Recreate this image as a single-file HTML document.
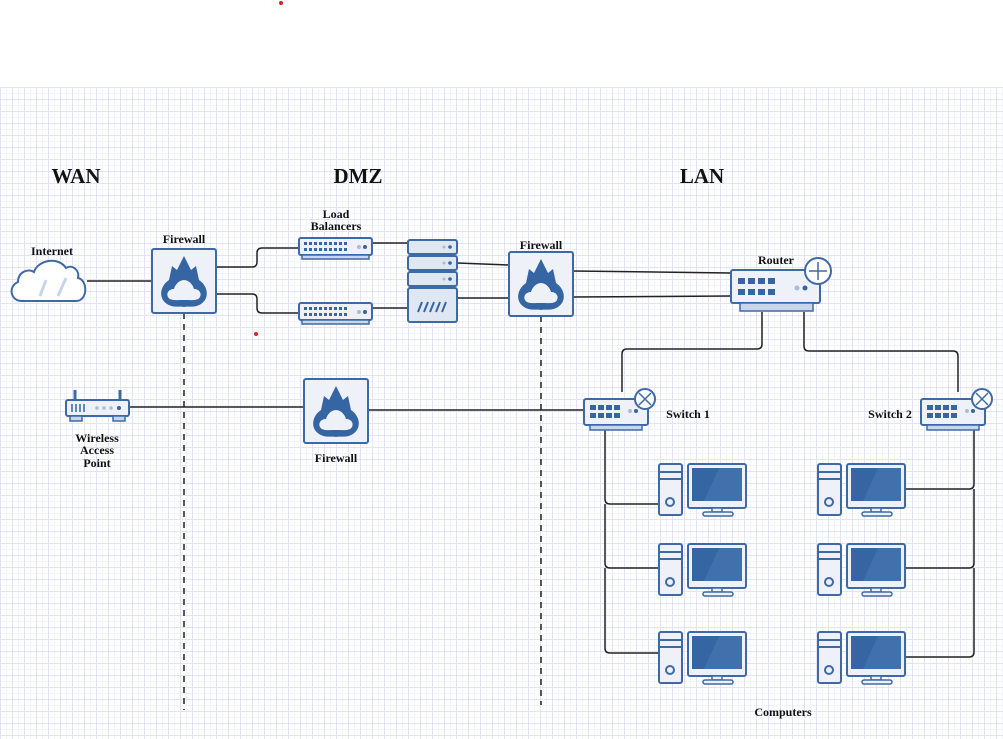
<!DOCTYPE html>
<html><head><meta charset="utf-8"><style>
html,body{margin:0;padding:0;background:#fff;}
#c{position:relative;width:1003px;height:739px;overflow:hidden;}
#g{position:absolute;left:0;top:87px;width:1003px;height:652px;
background-image:
linear-gradient(#e3e3f7 1px,transparent 1px),
linear-gradient(90deg,#e3e3f7 1px,transparent 1px),
linear-gradient(#f3f3fb 1px,transparent 1px),
linear-gradient(90deg,#f3f3fb 1px,transparent 1px);
background-size:12px 12px,12px 12px,6px 6px,6px 6px;}
svg{position:absolute;left:0;top:0;}
text{font-family:"Liberation Serif",serif;font-weight:bold;fill:#111;}
</style></head><body><div id="c"><div id="g"></div>
<svg width="1003" height="739" viewBox="0 0 1003 739">
<defs>
<g id="fw">
<rect x="0" y="0" width="64" height="64" rx="2" fill="#eef2f8" stroke="#3d6aa6" stroke-width="2"/>
<path d="M32 7 L39 21 L44 17 L47 31 C56 37 58 49 49 55 C43 59 37 57 32 58 C27 57 21 59 15 55 C6 49 8 37 17 31 L20 17 L25 21 Z" fill="#3565a3"/>
<path d="M32 31 C37 31 41 36 42 40 C47 40 50 44 48 48 C46 52 40 51 32 51 C24 51 18 52 16 48 C14 44 17 40 22 40 C23 36 27 31 32 31 Z" fill="#eef2f8"/>
</g>
<g id="lb">
<rect x="0" y="0" width="73" height="17" rx="2" fill="#eef2f8" stroke="#3d6aa6" stroke-width="2"/>
<rect x="3" y="17" width="67" height="4" fill="#c9d6ea" stroke="#3d6aa6" stroke-width="1.5"/>
<g fill="#3565a3">
<rect x="5" y="4" width="3" height="3"/><rect x="10" y="4" width="3" height="3"/><rect x="15" y="4" width="3" height="3"/><rect x="20" y="4" width="3" height="3"/><rect x="25" y="4" width="3" height="3"/><rect x="30" y="4" width="3" height="3"/><rect x="35" y="4" width="3" height="3"/><rect x="40" y="4" width="3" height="3"/><rect x="45" y="4" width="3" height="3"/>
<rect x="5" y="10" width="3" height="3"/><rect x="10" y="10" width="3" height="3"/><rect x="15" y="10" width="3" height="3"/><rect x="20" y="10" width="3" height="3"/><rect x="25" y="10" width="3" height="3"/><rect x="30" y="10" width="3" height="3"/><rect x="35" y="10" width="3" height="3"/><rect x="40" y="10" width="3" height="3"/><rect x="45" y="10" width="3" height="3"/>
<circle cx="60" cy="9" r="2" fill="#aabbd6"/><circle cx="66" cy="9" r="2"/></g>
</g>
<g id="sw">
<rect x="0" y="0" width="64" height="26" rx="2" fill="#eef2f8" stroke="#3d6aa6" stroke-width="2"/>
<rect x="6" y="26" width="52" height="5" fill="#c9d6ea" stroke="#3d6aa6" stroke-width="1.5"/>
<g fill="#3565a3"><rect x="6" y="6" width="6" height="5"/><rect x="14" y="6" width="6" height="5"/><rect x="22" y="6" width="6" height="5"/><rect x="30" y="6" width="6" height="5"/>
<rect x="6" y="14" width="6" height="5"/><rect x="14" y="14" width="6" height="5"/><rect x="22" y="14" width="6" height="5"/><rect x="30" y="14" width="6" height="5"/>
<circle cx="46" cy="12" r="2" fill="#aabbd6"/><circle cx="52" cy="12" r="2"/></g>
<circle cx="61" cy="0" r="10" fill="#fff" stroke="#3d6aa6" stroke-width="2"/>
<path d="M55 -6 L67 6 M67 -6 L55 6" stroke="#3d6aa6" stroke-width="1.5"/>
</g>
<g id="pc">
<rect x="0" y="0" width="23" height="51" rx="2" fill="#eef2f8" stroke="#3d6aa6" stroke-width="2"/>
<path d="M0 8 H23 M0 15 H23" stroke="#3d6aa6" stroke-width="2"/>
<circle cx="11" cy="38" r="4" fill="none" stroke="#3d6aa6" stroke-width="2"/>
<rect x="29" y="0" width="58" height="44" rx="2" fill="#eef2f8" stroke="#3d6aa6" stroke-width="2"/>
<rect x="33" y="4" width="50" height="33" fill="#3565a3"/>
<path d="M60 4 L83 4 L83 37 L45 37 Z" fill="#4b78b3" opacity=".6"/>
<rect x="53" y="44" width="10" height="4" fill="#eef2f8" stroke="#3d6aa6" stroke-width="1.5"/>
<rect x="44" y="48" width="30" height="4" rx="2" fill="#eef2f8" stroke="#3d6aa6" stroke-width="1.5"/>
</g>
</defs>
<circle cx="281" cy="3" r="2" fill="#e02020"/>
<circle cx="256" cy="334" r="2" fill="#e02020"/>
<text x="76" y="183" font-size="21" text-anchor="middle">WAN</text>
<text x="358" y="183" font-size="21" text-anchor="middle">DMZ</text>
<text x="702" y="183" font-size="21" text-anchor="middle">LAN</text>
<g font-size="12" text-anchor="middle">
<text x="52" y="255">Internet</text>
<text x="184" y="243">Firewall</text>
<text x="336" y="218">Load</text><text x="336" y="230">Balancers</text>
<text x="541" y="249">Firewall</text>
<text x="776" y="264">Router</text>
<text x="688" y="418">Switch 1</text>
<text x="890" y="418">Switch 2</text>
<text x="97" y="442">Wireless</text><text x="97" y="454">Access</text><text x="97" y="467">Point</text>
<text x="336" y="462">Firewall</text>
<text x="783" y="716">Computers</text>
</g>
<g fill="none" stroke="#222" stroke-width="1.5">
<path d="M87 281 H152"/>
<path d="M216 267 H252 Q257 267 257 262 V253 Q257 248 262 248 H300"/>
<path d="M216 294 H252 Q257 294 257 299 V308 Q257 313 262 313 H300"/>
<path d="M372 243 H409 M372 308 H409"/>
<path d="M457 263 L510 265 M457 298 H510"/>
<path d="M573 271 L731 273 M573 297 L731 296"/>
<path d="M762 312 V344 Q762 349 757 349 H627 Q622 349 622 354 V392"/>
<path d="M804 312 V346 Q804 351 809 351 H953 Q958 351 958 356 V392"/>
<path d="M129 407 H304 M368 410 H584"/>
<path d="M605 430 V499 Q605 504 610 504 H659 M605 504 V563 Q605 568 610 568 H659 M605 568 V648 Q605 653 610 653 H659"/>
<path d="M974 430 V484 Q974 489 969 489 H905 M974 489 V563 Q974 568 969 568 H905 M974 568 V652 Q974 657 969 657 H905"/>
<path d="M184 313 V710 M541 316 V705" stroke-dasharray="6 5"/>
</g>
<path d="M620 410 H632" stroke="#111" stroke-width="1.5"/>
<path d="M22 301 C10 301 8 286 18 282 C18 272 28 268 34 272 C38 260 58 256 66 268 C72 264 80 270 78 278 C88 280 88 301 76 301 Z" fill="#fff" stroke="#3d6aa6" stroke-width="2"/>
<path d="M40 296 L46 280 M58 296 L66 278" stroke="#c9d6ea" stroke-width="3"/>
<use href="#fw" x="152" y="249"/>
<use href="#fw" x="509" y="252"/>
<use href="#fw" x="304" y="379"/>
<use href="#lb" x="299" y="238"/>
<use href="#lb" x="299" y="303"/>
<g fill="#dfe7f3" stroke="#3d6aa6" stroke-width="2">
<rect x="408" y="240" width="49" height="14" rx="2"/>
<rect x="408" y="256" width="49" height="14" rx="2"/>
<rect x="408" y="272" width="49" height="14" rx="2"/>
<rect x="408" y="288" width="49" height="34" rx="2"/>
</g>
<g fill="#3565a3"><circle cx="450" cy="247" r="1.8"/><circle cx="450" cy="263" r="1.8"/><circle cx="450" cy="279" r="1.8"/><circle cx="444" cy="247" r="1.5" fill="#aabbd6"/><circle cx="444" cy="263" r="1.5" fill="#aabbd6"/><circle cx="444" cy="279" r="1.5" fill="#aabbd6"/></g>
<path d="M418 312 l4 -10 M424 312 l4 -10 M430 312 l4 -10 M436 312 l4 -10 M442 312 l4 -10" stroke="#3565a3" stroke-width="2"/>
<rect x="731" y="270" width="89" height="33" rx="2" fill="#eef2f8" stroke="#3d6aa6" stroke-width="2"/>
<rect x="740" y="303" width="73" height="8" fill="#c9d6ea" stroke="#3d6aa6" stroke-width="1.5"/>
<g fill="#3565a3"><rect x="738" y="278" width="7" height="6"/><rect x="748" y="278" width="7" height="6"/><rect x="758" y="278" width="7" height="6"/><rect x="768" y="278" width="7" height="6"/>
<rect x="738" y="289" width="7" height="6"/><rect x="748" y="289" width="7" height="6"/><rect x="758" y="289" width="7" height="6"/><rect x="768" y="289" width="7" height="6"/>
<circle cx="797" cy="288" r="2.5" fill="#aabbd6"/><circle cx="805" cy="288" r="2.5"/></g>
<circle cx="818" cy="271" r="13" fill="#fff" stroke="#3d6aa6" stroke-width="2"/>
<path d="M818 262 V280 M809 271 H827" stroke="#3d6aa6" stroke-width="1.5"/>
<use href="#sw" x="584" y="399"/>
<use href="#sw" x="921" y="399"/>
<path d="M75 400 V390 M120 400 V390" stroke="#3d6aa6" stroke-width="3"/>
<rect x="66" y="400" width="63" height="16" rx="2" fill="#eef2f8" stroke="#3d6aa6" stroke-width="2"/>
<rect x="70" y="416" width="12" height="5" fill="#c9d6ea" stroke="#3d6aa6" stroke-width="1.5"/>
<rect x="113" y="416" width="12" height="5" fill="#c9d6ea" stroke="#3d6aa6" stroke-width="1.5"/>
<path d="M72 404 v8 M76 404 v8 M80 404 v8 M84 404 v8" stroke="#3565a3" stroke-width="1.5"/>
<g fill="#aabbd6"><circle cx="97" cy="408" r="1.8"/><circle cx="104" cy="408" r="1.8"/><circle cx="111" cy="408" r="1.8"/></g><circle cx="119" cy="408" r="2" fill="#3565a3"/>
<use href="#pc" x="659" y="464"/>
<use href="#pc" x="659" y="544"/>
<use href="#pc" x="659" y="632"/>
<use href="#pc" x="818" y="464"/>
<use href="#pc" x="818" y="544"/>
<use href="#pc" x="818" y="632"/>
</svg></div></body></html>
